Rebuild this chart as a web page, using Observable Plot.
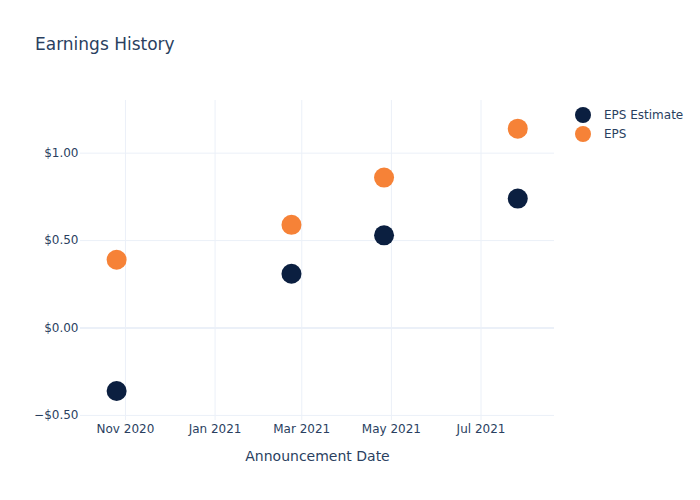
<!DOCTYPE html>
<html>
<head>
<meta charset="utf-8">
<script src="https://cdn.jsdelivr.net/npm/d3@7"></script>
<script src="https://cdn.jsdelivr.net/npm/@observablehq/plot@0.6"></script>
<style>
  body { margin: 0; background: #fff; font-family: "DejaVu Sans", sans-serif; color: #2a3f5f; }
  #wrap { position: relative; width: 700px; height: 500px; }
  #title { position: absolute; left: 35px; top: 34px; font-size: 17px; line-height: 20px; white-space: nowrap; }
  #legend { position: absolute; left: 575px; top: 105px; font-size: 12px; }
  .item { display: flex; align-items: center; height: 19px; white-space: nowrap; }
  .sw { width: 16px; height: 16px; border-radius: 50%; margin-right: 13px; }
</style>
</head>
<body>
<div id="wrap">
  <div id="chart"></div>
  <div id="title">Earnings History</div>
  <div id="legend"></div>
</div>
<script>
const titleText = "Earnings History";
const xLabel = "Announcement Date";
const series = ["EPS Estimate", "EPS"];
const seriesColors = ["#0b1f40", "#f68237"];
const dates = ["2020-10-26", "2021-02-22", "2021-04-26", "2021-07-26"];
const epsEstimate = [-0.36, 0.31, 0.53, 0.74];
const eps = [0.39, 0.59, 0.86, 1.14];
const xTickDates = ["2020-11-01", "2021-01-01", "2021-03-01", "2021-05-01", "2021-07-01"];
const yTicks = [-0.5, 0, 0.5, 1.0];

const parse = d3.utcParse("%Y-%m-%d");
const xTicks = xTickDates.map(parse);
const rows = [];
dates.forEach((d, i) => rows.push({date: parse(d), value: epsEstimate[i], series: series[0]}));
dates.forEach((d, i) => rows.push({date: parse(d), value: eps[i], series: series[1]}));

const chart = Plot.plot({
  width: 700,
  height: 500,
  marginTop: 100,
  marginRight: 146,
  marginBottom: 80,
  marginLeft: 80,
  style: {fontFamily: "DejaVu Sans", fontSize: "12px", color: "#2a3f5f", background: "white"},
  x: {type: "utc", domain: [new Date(Date.UTC(2020, 9, 1, 10)), new Date(Date.UTC(2021, 7, 20))]},
  y: {domain: [-0.529, 1.301]},
  color: {domain: series, range: seriesColors},
  marks: [
    Plot.gridX(xTicks, {stroke: "#ebf0f8", strokeOpacity: 1, strokeWidth: 1}),
    Plot.gridY(yTicks.filter(v => v !== 0), {stroke: "#ebf0f8", strokeOpacity: 1, strokeWidth: 1}),
    Plot.ruleY([0], {stroke: "#ebf0f8", strokeWidth: 2}),
    Plot.axisX(xTicks, {tickSize: 0, tickPadding: 4, tickFormat: d3.utcFormat("%b %Y"), label: null}),
    Plot.axisY(yTicks, {tickSize: 0, tickPadding: 2, tickFormat: d3.format("$.2f"), label: null}),
    Plot.text([xLabel], {frameAnchor: "bottom", dy: 40, fontSize: 14, fill: "#2a3f5f"}),
    Plot.dot(rows, {x: "date", y: "value", fill: "series", r: 10})
  ]
});
document.getElementById("chart").appendChild(chart);
document.getElementById("title").textContent = titleText;

const legend = document.getElementById("legend");
series.forEach((s, i) => {
  const item = document.createElement("div");
  item.className = "item";
  const sw = document.createElement("span");
  sw.className = "sw";
  sw.style.background = seriesColors[i];
  const t = document.createElement("span");
  t.textContent = s;
  item.appendChild(sw);
  item.appendChild(t);
  legend.appendChild(item);
});
</script>
</body>
</html>
